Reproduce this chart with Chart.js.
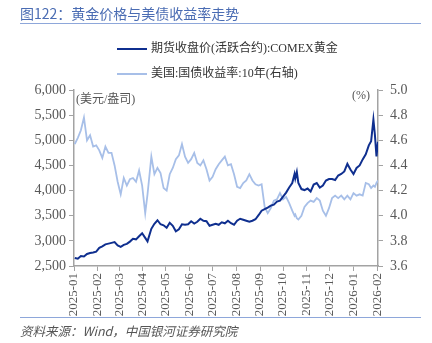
<!DOCTYPE html>
<html lang="zh">
<head>
<meta charset="UTF-8">
<title>黄金价格与美债收益率走势</title>
<script src="https://cdn.jsdelivr.net/npm/chart.js"></script>
<style>
    body { margin: 0; background: #fff; }
    #wrap { position: relative; width: 432px; height: 343px; overflow: hidden; }
    #c { position: absolute; left: 0; top: 0; }
    .txt { position: absolute; white-space: nowrap; font-family: "Liberation Serif", "Noto Sans CJK SC", serif; }
    #title { left: 20px; top: 3px; font-size: 14px; color: #4a6cb3; font-family: "Noto Sans CJK SC", sans-serif; }
    .rule { position: absolute; left: 20px; width: 401px; height: 0; border-top: 1.5px solid #8ea7da; }
    #foot { left: 20px; top: 321px; font-size: 12.5px; color: #555; font-style: italic; font-family: "Noto Sans CJK SC", sans-serif; }
    .leg { position: absolute; left: 117px; font-size: 12px; color: #333; }
    .leg i { display: inline-block; width: 30px; height: 0; vertical-align: middle; margin-right: 4px; }
    .unit { font-size: 12px; color: #555; }
</style>
</head>
<body>
<div id="wrap">
    <canvas id="c" width="432" height="343"></canvas>
    <div class="txt" id="title">图122：黄金价格与美债收益率走势</div>
    <div class="rule" style="top:23px"></div>
    <div class="txt leg" style="top:38px"><i style="border-top:2px solid #0f2f8f"></i>期货收盘价(活跃合约):COMEX黄金</div>
    <div class="txt leg" style="top:63px"><i style="border-top:2px solid #a7bfe8"></i>美国:国债收益率:10年(右轴)</div>
    <div class="txt unit" style="left:76px; top:89px">(美元/盎司)</div>
    <div class="txt unit" style="left:352px; top:88px">(%)</div>
    <div class="rule" style="top:317px"></div>
    <div class="txt" id="foot">资料来源：Wind，中国银河证券研究院</div>
</div>
<script>
// 日期
const dates = [
    '2025-01-02','2025-01-06','2025-01-10','2025-01-14','2025-01-18','2025-01-22','2025-01-26','2025-01-30',
    '2025-02-03','2025-02-07','2025-02-11','2025-02-15','2025-02-19','2025-02-23','2025-02-27',
    '2025-03-03','2025-03-07','2025-03-11','2025-03-15','2025-03-19','2025-03-23','2025-03-27','2025-03-31',
    '2025-04-04','2025-04-07','2025-04-12','2025-04-16','2025-04-20','2025-04-24','2025-04-28',
    '2025-05-02','2025-05-06','2025-05-10','2025-05-14','2025-05-18','2025-05-22','2025-05-26','2025-05-30',
    '2025-06-03','2025-06-07','2025-06-11','2025-06-15','2025-06-19','2025-06-23','2025-06-27',
    '2025-07-01','2025-07-05','2025-07-09','2025-07-13','2025-07-17','2025-07-21','2025-07-25','2025-07-29',
    '2025-08-02','2025-08-06','2025-08-10','2025-08-14','2025-08-18','2025-08-22','2025-08-26','2025-08-30',
    '2025-09-03','2025-09-07','2025-09-11','2025-09-15','2025-09-19','2025-09-23','2025-09-27',
    '2025-10-01','2025-10-05','2025-10-09','2025-10-13','2025-10-16','2025-10-17','2025-10-19','2025-10-21','2025-10-25','2025-10-29',
    '2025-11-02','2025-11-06','2025-11-10','2025-11-14','2025-11-18','2025-11-22','2025-11-26','2025-11-30',
    '2025-12-04','2025-12-08','2025-12-12','2025-12-16','2025-12-20','2025-12-24','2025-12-28',
    '2026-01-01','2026-01-05','2026-01-09','2026-01-13','2026-01-17','2026-01-21','2026-01-24','2026-01-27','2026-01-29','2026-01-31',
    '2026-02-02'
];

// 期货收盘价(活跃合约):COMEX黄金，美元/盎司
const goldClose = [
    2660, 2645, 2700, 2690, 2740, 2760, 2770, 2785,
    2860, 2890, 2930, 2945, 2960, 2975, 2910,
    2880, 2920, 2940, 2985, 3040, 3030, 3090, 3150,
    3060, 2990, 3240, 3340, 3410, 3330, 3310,
    3260, 3360, 3300, 3190, 3230, 3330, 3320, 3330,
    3390, 3345, 3380, 3440, 3400, 3390, 3300,
    3320, 3340, 3320, 3370, 3350, 3400, 3350, 3320,
    3400, 3440, 3420, 3400, 3380, 3400, 3430, 3510,
    3600, 3630, 3660, 3700, 3720, 3780, 3800,
    3880, 3960, 4060, 4150, 4330, 4240, 4370, 4150, 4030, 4010,
    4040, 3980, 4120, 4150, 4060, 4100, 4200, 4230,
    4230, 4210, 4300, 4330, 4380, 4530, 4420,
    4330, 4450, 4500, 4620, 4720, 4900, 4980, 5410, 5100, 4680,
    4970
];

// 美国:国债收益率:10年，%
const ust10y = [
    4.57, 4.62, 4.68, 4.78, 4.60, 4.64, 4.55, 4.56,
    4.52, 4.46, 4.55, 4.50, 4.50, 4.40, 4.27,
    4.17, 4.30, 4.24, 4.29, 4.30, 4.27, 4.36, 4.24,
    4.02, 4.17, 4.47, 4.33, 4.38, 4.34, 4.22,
    4.20, 4.33, 4.38, 4.45, 4.48, 4.57, 4.47, 4.42,
    4.45, 4.50, 4.42, 4.40, 4.44, 4.37, 4.28,
    4.31, 4.37, 4.41, 4.44, 4.47, 4.40, 4.41, 4.33,
    4.23, 4.22, 4.26, 4.28, 4.33, 4.28, 4.25, 4.24,
    4.25, 4.07, 4.02, 4.06, 4.12, 4.13, 4.18,
    4.13, 4.15, 4.10, 4.04, 4.00, 4.01, 3.98, 3.97, 4.00, 4.07,
    4.10, 4.12, 4.11, 4.14, 4.12, 4.04, 4.00, 4.06,
    4.14, 4.16, 4.14, 4.16, 4.13, 4.16, 4.13,
    4.18, 4.16, 4.17, 4.16, 4.26, 4.25, 4.22, 4.24, 4.23, 4.26,
    4.28
];

const monthTicks = ['2025-01','2025-02','2025-03','2025-04','2025-05','2025-06','2025-07',
    '2025-08','2025-09','2025-10','2025-11','2025-12','2026-01','2026-02'];

const leftTicks = [2500, 3000, 3500, 4000, 4500, 5000, 5500, 6000];
const rightTicks = [3.6, 3.8, 4.0, 4.2, 4.4, 4.6, 4.8, 5.0];

// 日期 -> 自 2025-01-01 起的天数
const base = Date.UTC(2025, 0, 1);
function dayOf(s) {
    const p = s.split('-').map(Number);
    return (Date.UTC(p[0], p[1] - 1, p[2] || 1) - base) / 86400000;
}
const xs = dates.map(dayOf);
const tickDays = monthTicks.map(dayOf);
const axisGray = '#a3a3a3';
const tickFont = { family: '"Liberation Serif", serif', size: 14 };

new Chart(document.getElementById('c'), {
    type: 'line',
    data: {
        datasets: [
            {
                label: '期货收盘价(活跃合约):COMEX黄金',
                data: xs.map((x, i) => ({ x: x, y: goldClose[i] })),
                borderColor: '#0f2f8f',
                borderWidth: 2,
                pointRadius: 0,
                yAxisID: 'y'
            },
            {
                label: '美国:国债收益率:10年(右轴)',
                data: xs.map((x, i) => ({ x: x, y: ust10y[i] })),
                borderColor: '#a7bfe8',
                borderWidth: 1.8,
                pointRadius: 0,
                yAxisID: 'y1'
            }
        ]
    },
    options: {
        responsive: false,
        animation: false,
        layout: { padding: { top: 90, left: 0, right: 0, bottom: 0 } },
        plugins: { legend: { display: false }, tooltip: { enabled: false } },
        scales: {
            x: {
                type: 'linear',
                min: 0,
                max: xs[xs.length - 1],
                afterBuildTicks: s => { s.ticks = tickDays.map(v => ({ value: v })); },
                afterFit: s => { s.height = 77; },
                grid: { drawOnChartArea: false, color: axisGray, tickLength: 5 },
                border: { color: axisGray, width: 1.5 },
                ticks: {
                    autoSkip: false,
                    minRotation: 90,
                    maxRotation: 90,
                    padding: 2,
                    color: '#595959',
                    font: { family: '"Liberation Serif", serif', size: 13 },
                    callback: v => monthTicks[tickDays.indexOf(v)]
                }
            },
            y: {
                position: 'left',
                min: 2500,
                max: 6000,
                afterBuildTicks: s => { s.ticks = leftTicks.map(v => ({ value: v })); },
                afterFit: s => { s.width = 74; },
                grid: { drawOnChartArea: false, color: axisGray, tickLength: 5 },
                border: { color: axisGray, width: 1.5 },
                ticks: {
                    padding: 3,
                    color: '#595959',
                    font: tickFont,
                    callback: v => v.toLocaleString('en-US')
                }
            },
            y1: {
                position: 'right',
                min: 3.6,
                max: 5.0,
                afterBuildTicks: s => { s.ticks = rightTicks.map(v => ({ value: v })); },
                afterFit: s => { s.width = 54; },
                grid: { drawOnChartArea: false, color: axisGray, tickLength: 5 },
                border: { color: axisGray, width: 1.5 },
                ticks: {
                    padding: 7,
                    color: '#595959',
                    font: tickFont,
                    callback: v => v.toFixed(1)
                }
            }
        }
    }
});
</script>
</body>
</html>
